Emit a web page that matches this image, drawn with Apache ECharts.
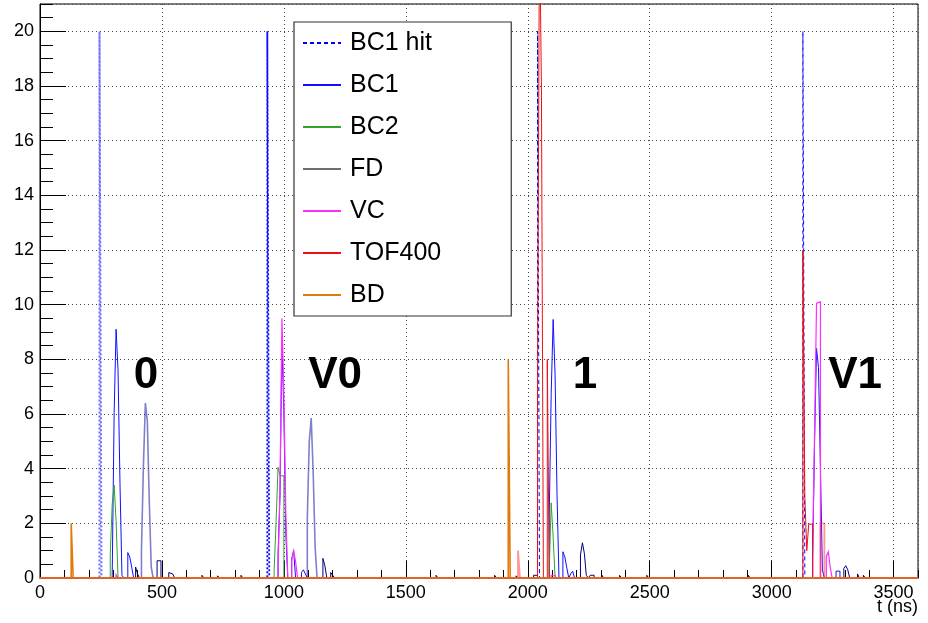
<!DOCTYPE html>
<html>
<head>
<meta charset="utf-8">
<script src="https://cdn.jsdelivr.net/npm/echarts@6/dist/echarts.min.js"></script>
<style>
  html, body { margin: 0; padding: 0; background: #fff; }
  #chart { width: 928px; height: 623px; }
</style>
</head>
<body>
<div id="chart"></div>
<script>
// Histogram binning (ns)
const BIN_NS = 8;
const T_MAX = 3600;
const Y_MAX = 21;

// Axis ticks
const xMajorStep = 500;
const xMinorStep = 100;
const yMajorStep = 2;
const yMinorStep = 0.5;

// Bin contents as [bin start (ns), entries]; empty bins are omitted
const bc1HitBins      = [[2040, 20], [3128, 20]];
const bc1HitEarlyBins = [[244, 20]];
const bc1HitV0Bins    = [[932, 20]];

const bc1Bins = [
  [296, 0.1], [304, 6.05], [312, 9.1], [320, 7.6], [328, 3.45], [336, 0.1],
  [360, 0.93], [368, 0.77], [376, 0.4],
  [976, 0.9], [984, 3.0], [992, 8.6], [1000, 6.0], [1008, 1.6],
  [1032, 0.7], [1040, 1.0], [1072, 0.2], [1080, 0.3], [1088, 0.15],
  [2088, 2.3], [2096, 6.75], [2104, 9.46], [2112, 7.42], [2120, 3.03],
  [2144, 0.96], [2152, 0.77], [2160, 0.37], [2176, 0.15], [2184, 0.25],
  [3168, 0.6], [3176, 5.0], [3184, 8.4], [3192, 7.7], [3200, 4.0], [3208, 0.3],
  [3264, 0.25], [3272, 0.25]
];
const bc1LateBins = [
  [416, 1.0], [424, 4.1], [432, 6.4], [440, 5.75], [448, 2.83], [456, 0.4],
  [1096, 2.2], [1104, 5.0], [1112, 5.85], [1120, 3.9], [1128, 1.15]
];
const bc1TailBins = [
  [392, 0.4], [400, 0.15], [480, 0.63], [488, 0.63], [528, 0.2], [536, 0.15], [544, 0.08],
  [664, 0.1], [728, 0.08], [824, 0.1],
  [1160, 0.72], [1168, 0.45], [1192, 0.2], [1200, 0.1],
  [1624, 0.1], [1864, 0.1], [1952, 0.08], [2024, 0.1], [2032, 0.1],
  [2216, 0.84], [2224, 1.29], [2232, 0.9], [2240, 0.1], [2256, 0.1], [2264, 0.1],
  [2304, 0.1], [2376, 0.1], [2488, 0.1], [2904, 0.1],
  [3296, 0.35], [3304, 0.45], [3312, 0.3], [3352, 0.15], [3376, 0.1]
];
const bc2Bins = [
  [288, 0.84], [296, 2.7], [304, 3.4], [312, 2.1],
  [960, 0.25], [968, 2.06], [976, 4.05], [984, 3.74], [992, 3.74],
  [2088, 0.3], [2096, 2.75], [2104, 1.5]
];
const fdBins = [];
const vcBins = [
  [312, 0.12],
  [976, 0.3], [984, 3.3], [992, 9.5], [1000, 6.7], [1008, 2.3],
  [1032, 0.65], [1040, 1.0], [1048, 0.6],
  [2096, 0.1], [2104, 0.1],
  [3168, 1.08], [3176, 5.4], [3184, 10.05], [3192, 10.1],
  [3224, 0.78], [3232, 0.96], [3240, 0.41]
];
const tofBins = [
  [2040, 7.0], [2048, 24], [2056, 18], [2080, 8.0],
  [3128, 12], [3136, 2.97], [3144, 1.0], [3152, 1.97], [3160, 1.97]
];
const tofFaintBins = [[1960, 1.0], [3200, 2.0], [3208, 2.0]];
const bdBins = [[128, 2.0], [1920, 8.0]];

// Event tags written over the spectrum: text, time (ns), height (entries)
const tagTexts = ['0', 'V0', '1', 'V1'];
const tagTimes = [435, 1210, 2235, 3342];
const tagHeights = [7.4, 7.4, 7.4, 7.4];

const legendNames = ['BC1 hit', 'BC1', 'BC2', 'FD', 'VC', 'TOF400', 'BD'];

// Turn sparse bins into the outline of a step histogram over [0, T_MAX]
function outline(bins) {
  const sorted = bins.slice().sort((a, b) => a[0] - b[0]);
  const pts = [[0, 0]];
  let cur = 0, end = 0;
  for (const [t, v] of sorted) {
    if (t > end && cur !== 0) {
      pts.push([end, cur], [end, 0]);
      cur = 0;
    }
    pts.push([t, cur], [t, v]);
    cur = v;
    end = t + BIN_NS;
  }
  pts.push([end, cur], [end, 0], [T_MAX, 0]);
  return pts;
}

function hist(name, bins, color, width, dash, opacity, z) {
  return {
    name: name,
    type: 'line',
    data: outline(bins),
    symbol: 'none',
    showSymbol: false,
    smooth: false,
    clip: true,
    z: z,
    silent: true,
    animation: false,
    xAxisIndex: 0,
    yAxisIndex: 0,
    lineStyle: { color: color, width: width, type: dash, opacity: opacity, join: 'miter' },
    itemStyle: { color: color }
  };
}

const FONT = 'Liberation Sans, Arial, Helvetica, sans-serif';

const series = [
  hist('BC1 hit', bc1HitBins, '#0000ff', 1, [4, 3], 1, 2),
  hist('hit0', bc1HitEarlyBins, '#6e6eff', 2, [2, 2], 1, 2),
  hist('hitV0', bc1HitV0Bins, '#0a0aff', 1.8, [2, 2], 1, 2),
  hist('BC1', bc1Bins, '#1010ff', 1, 'solid', 1, 3),
  hist('bc1late', bc1LateBins, '#2a2aa8', 1.6, 'solid', 0.6, 3),
  hist('bc1tail', bc1TailBins, '#00007a', 1, 'solid', 1, 3),
  hist('BC2', bc2Bins, '#2fa52f', 1, 'solid', 1, 4),
  hist('FD', fdBins, '#6e6e6e', 2, 'solid', 1, 4),
  hist('VC', vcBins, '#ff2cff', 1.2, 'solid', 1, 5),
  hist('TOF400', tofBins, '#ee1111', 1, 'solid', 1, 6),
  hist('tofFaint', tofFaintBins, '#ff4040', 1.8, 'solid', 0.55, 6),
  hist('BD', bdBins, '#e07a0a', 1.6, 'solid', 1, 7)
];

const chart = echarts.init(document.getElementById('chart'), null, { renderer: 'canvas' });

const gridLine = { show: true, lineStyle: { color: '#444', width: 1, type: [1, 3] } };
const plainNumber = v => String(v);

chart.setOption({
  animation: false,
  backgroundColor: '#fff',
  grid: {
    left: 40, right: 10, top: 4, bottom: 45,
    show: true, borderColor: '#000', borderWidth: 1, backgroundColor: '#fff'
  },
  xAxis: [
    {
      type: 'value', min: 0, max: T_MAX, interval: xMajorStep, position: 'bottom',
      axisLine: { show: true, onZero: false, lineStyle: { color: '#000', width: 1 } },
      axisTick: { show: true, inside: true, length: 17, lineStyle: { color: '#000', width: 1 } },
      axisLabel: { show: true, margin: 6, showMaxLabel: false, formatter: plainNumber,
                   fontFamily: FONT, fontSize: 18, color: '#000' },
      splitLine: gridLine
    },
    {
      type: 'value', min: 0, max: T_MAX, interval: xMinorStep, position: 'bottom', offset: 0,
      axisLine: { show: false },
      axisTick: { show: true, inside: true, length: 8, lineStyle: { color: '#000', width: 1 } },
      axisLabel: { show: false },
      splitLine: { show: false }
    }
  ],
  yAxis: [
    {
      type: 'value', min: 0, max: Y_MAX, interval: yMajorStep, position: 'left',
      axisLine: { show: true, onZero: false, lineStyle: { color: '#000', width: 1 } },
      axisTick: { show: true, inside: true, length: 26, lineStyle: { color: '#000', width: 1 } },
      axisLabel: { show: true, margin: 6, showMaxLabel: false, formatter: plainNumber,
                   fontFamily: FONT, fontSize: 18, color: '#000' },
      splitLine: gridLine
    },
    {
      type: 'value', min: 0, max: Y_MAX, interval: yMinorStep, position: 'left', offset: 0,
      axisLine: { show: false },
      axisTick: { show: true, inside: true, length: 13, lineStyle: { color: '#000', width: 1 } },
      axisLabel: { show: false },
      splitLine: { show: false }
    }
  ],
  legend: {
    show: true,
    data: legendNames,
    orient: 'vertical',
    left: 294, top: 22,
    padding: [8.5, 70, 8.5, 8],
    itemWidth: 38, itemHeight: 14, itemGap: 17,
    backgroundColor: '#fff',
    borderColor: '#333', borderWidth: 1.2, borderRadius: 0,
    selectedMode: false,
    itemStyle: { color: 'rgba(0,0,0,0)', borderWidth: 0, opacity: 0 },
    textStyle: { fontFamily: FONT, fontSize: 25, lineHeight: 24, color: '#000', padding: [0, 0, 0, 4] }
  },
  series: series
});

// Event tags and axis title placed through the axis scales
const tagGraphics = tagTexts.map((txt, i) => {
  const p = chart.convertToPixel({ xAxisIndex: 0, yAxisIndex: 0 }, [tagTimes[i], tagHeights[i]]);
  return {
    type: 'text', x: p[0], y: p[1], z: 100,
    style: { text: txt, font: 'bold 44px ' + FONT, fill: '#000', align: 'center', verticalAlign: 'middle' }
  };
});
const axisEnd = chart.convertToPixel({ xAxisIndex: 0, yAxisIndex: 0 }, [T_MAX, 0]);
tagGraphics.push({
  type: 'text', x: axisEnd[0], y: axisEnd[1] + 29, z: 100,
  style: { text: 't (ns)', font: '18px ' + FONT, fill: '#000', align: 'right', verticalAlign: 'middle' }
});
chart.setOption({ graphic: tagGraphics });
</script>
</body>
</html>
